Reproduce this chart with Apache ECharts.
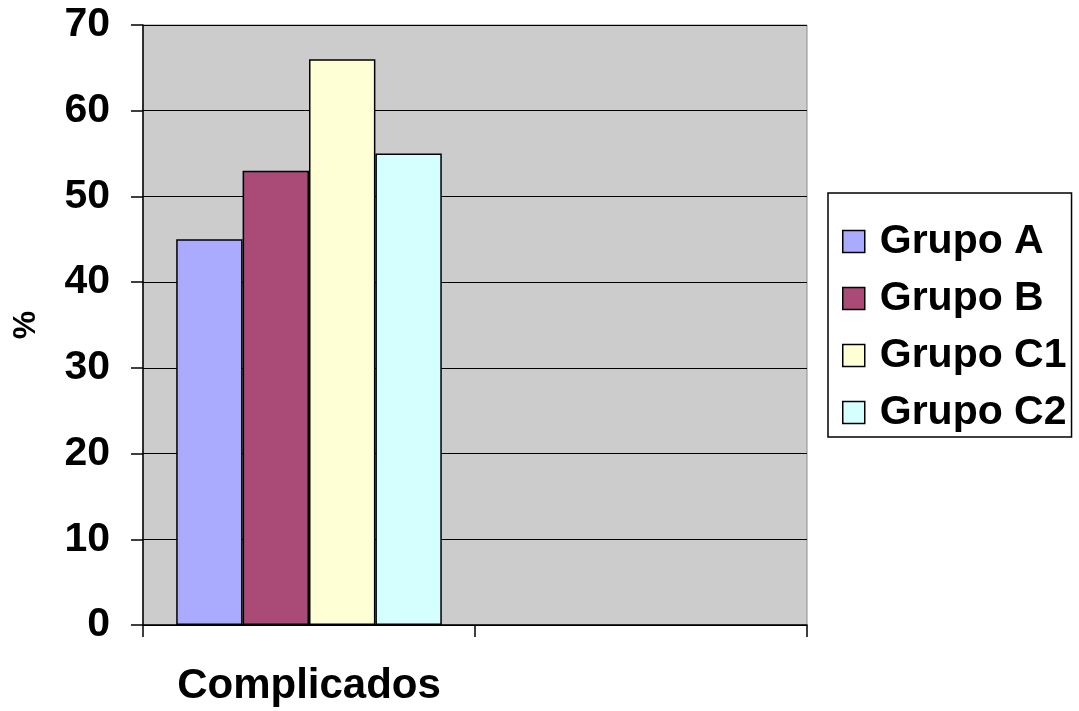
<!DOCTYPE html>
<html lang="es">
<head>
    <meta charset="UTF-8">
    <title>Complicados</title>
    <script src="https://cdn.jsdelivr.net/npm/echarts@6/dist/echarts.min.js"></script>
    <style>
        html, body { margin: 0; padding: 0; background: #fff; }
        #chart { width: 1079px; height: 711px; }
    </style>
</head>
<body>
    <div id="chart"></div>
    <script>
        // datos
        var categories = ['Complicados', ''];
        var groupNames = ['Grupo A', 'Grupo B', 'Grupo C1', 'Grupo C2'];
        var groupValues = [
            [45, null],
            [53, null],
            [66, null],
            [55, null]
        ];
        var groupColors = ['#aaaaff', '#a94a77', '#ffffd5', '#d5ffff'];
        var yTicks = { min: 0, max: 70, interval: 10 };

        var font = '"Liberation Sans", Arial, sans-serif';
        var myChart = echarts.init(document.getElementById('chart'));

        var series = groupNames.map(function (name, i) {
            return {
                name: name,
                type: 'bar',
                data: groupValues[i],
                barGap: 0,
                barCategoryGap: '20%',
                itemStyle: {
                    color: groupColors[i],
                    borderColor: '#000',
                    borderWidth: 1.5
                },
                emphasis: { disabled: true }
            };
        });

        var option = {
            animation: false,
            backgroundColor: '#fff',
            textStyle: { fontFamily: font },
            grid: {
                left: 143,
                right: 272,
                top: 25,
                bottom: 86,
                containLabel: false,
                outerBoundsMode: 'none',
                show: true,
                backgroundColor: '#cccccc',
                borderColor: '#8c8c8c',
                borderWidth: 1
            },
            legend: {
                orient: 'vertical',
                left: 828,
                top: 193,
                padding: [28, 5, 4, 14],
                itemGap: 16,
                itemWidth: 22,
                itemHeight: 22,
                icon: 'rect',
                borderColor: '#000',
                borderWidth: 1.5,
                itemStyle: { borderColor: '#000', borderWidth: 1.5 },
                textStyle: {
                    fontFamily: font,
                    fontWeight: 'bold',
                    fontSize: 41,
                    lineHeight: 41,
                    color: '#000',
                    padding: [0, 0, 0, 10]
                },
                data: groupNames
            },
            xAxis: {
                type: 'category',
                data: categories,
                axisLine: { lineStyle: { color: '#000', width: 1.5 } },
                axisTick: { show: true, interval: 0, length: 12, lineStyle: { color: '#000', width: 1.5 } },
                axisLabel: {
                    interval: 0,
                    margin: 40,
                    fontFamily: font,
                    fontWeight: 'bold',
                    fontSize: 42,
                    color: '#000'
                },
                splitLine: { show: false }
            },
            yAxis: {
                type: 'value',
                min: yTicks.min,
                max: yTicks.max,
                interval: yTicks.interval,
                name: '%',
                nameLocation: 'middle',
                nameGap: 101,
                nameTextStyle: {
                    fontFamily: font,
                    fontWeight: 'bold',
                    fontSize: 32,
                    color: '#000'
                },
                axisLine: { show: true, lineStyle: { color: '#000', width: 1.5 } },
                axisTick: { show: true, length: 12, lineStyle: { color: '#000', width: 1.5 } },
                axisLabel: {
                    margin: 33,
                    fontFamily: font,
                    fontWeight: 'bold',
                    fontSize: 41,
                    color: '#000'
                },
                splitLine: { show: true, lineStyle: { color: '#000', width: 1 } }
            },
            series: series
        };

        myChart.setOption(option);
    </script>
</body>
</html>
